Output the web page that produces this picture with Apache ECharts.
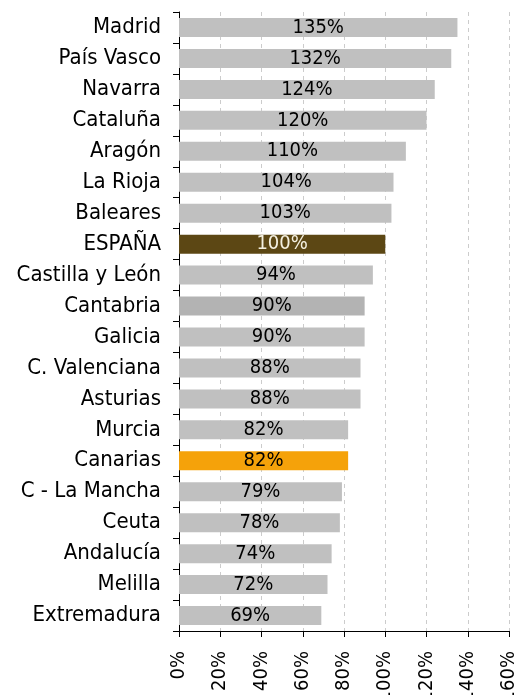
<!DOCTYPE html>
<html>
<head>
<meta charset="utf-8">
<script src="https://cdn.jsdelivr.net/npm/echarts@6/dist/echarts.min.js"></script>
<style>
    html, body { margin: 0; padding: 0; background: #fff; }
    #chart { width: 528px; height: 695px; }
</style>
</head>
<body>
<div id="chart"></div>
<script>
const regions = ['Madrid', 'País Vasco', 'Navarra', 'Cataluña', 'Aragón', 'La Rioja', 'Baleares',
    'ESPAÑA', 'Castilla y León', 'Cantabria', 'Galicia', 'C. Valenciana', 'Asturias', 'Murcia',
    'Canarias', 'C - La Mancha', 'Ceuta', 'Andalucía', 'Melilla', 'Extremadura'];
const values = [135, 132, 124, 120, 110, 104, 103, 100, 94, 90, 90, 88, 88, 82, 82, 79, 78, 74, 72, 69];
const xTicks = [0, 20, 40, 60, 80, 100, 120, 140, 160];

// highlighted bars
const barColors = {
    'ESPAÑA': '#5c4714',
    'Canarias': '#f5a20a',
    'Cantabria': '#b3b3b3'
};

const chart = echarts.init(document.getElementById('chart'));

const option = {
    animation: false,
    grid: { left: 179, right: 19, top: 12, bottom: 64, outerBoundsMode: 'none', containLabel: false },
    xAxis: {
        type: 'value',
        min: 0,
        max: 160,
        interval: 20,
        axisLine: { show: true, lineStyle: { color: '#000', width: 1 } },
        axisTick: { show: true, length: 6, lineStyle: { color: '#000' } },
        axisLabel: {
            rotate: 90,
            margin: 20,
            fontFamily: 'DejaVu Sans Condensed',
            fontSize: 20,
            color: '#000',
            formatter: v => xTicks.includes(v) ? v + '%' : ''
        },
        splitLine: { show: true, lineStyle: { color: '#cccccc', type: [4, 4] } }
    },
    yAxis: {
        type: 'category',
        inverse: true,
        data: regions,
        axisLine: { show: true, lineStyle: { color: '#000' } },
        axisTick: { show: true, length: 6, lineStyle: { color: '#000' } },
        axisLabel: {
            margin: 18,
            fontFamily: 'DejaVu Sans Condensed',
            fontSize: 22,
            color: '#000'
        }
    },
    series: [{
        type: 'bar',
        barWidth: 19,
        data: values.map((v, i) => ({
            value: v,
            itemStyle: { color: barColors[regions[i]] || '#c0c0c0' },
            label: regions[i] === 'ESPAÑA' ? { color: '#f4f0e0' } : undefined
        })),
        label: {
            show: true,
            position: 'inside',
            fontFamily: 'DejaVu Sans Condensed',
            fontSize: 20,
            color: '#000',
            formatter: p => p.value + '%'
        }
    }]
};

chart.setOption(option);
</script>
</body>
</html>
